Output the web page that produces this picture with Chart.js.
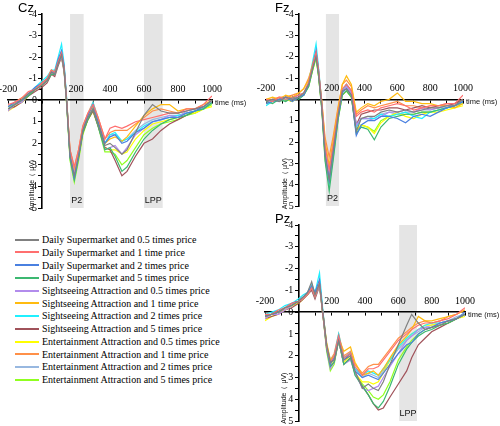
<!DOCTYPE html>
<html><head><meta charset="utf-8">
<script src="https://cdn.jsdelivr.net/npm/chart.js@4/dist/chart.umd.min.js"></script>
<style>
html,body{margin:0;padding:0;background:#fff}
body{width:500px;height:426px;position:relative;overflow:hidden;font-family:"Liberation Sans",Arial,sans-serif}
canvas{position:absolute}
.ttl{position:absolute;font-size:13px;line-height:13px;color:#000}
.lrow{position:absolute;left:15px;height:12px;line-height:12px;font-family:"Liberation Serif","Times New Roman",Times,serif;font-size:10px;color:#000;white-space:nowrap}
.lrow span.sw{display:inline-block;width:24px;height:2px;vertical-align:middle;margin-right:3px;position:relative;top:-1px}
</style></head><body>
<canvas id="cz" width="264" height="234" style="left:-12px;top:-6px"></canvas>
<canvas id="fz" width="257" height="232" style="left:246px;top:-6px"></canvas>
<canvas id="pz" width="260" height="236" style="left:245px;top:205px"></canvas>
<div class="ttl" style="left:18px;top:1px">Cz</div>
<div class="ttl" style="left:275px;top:1px">Fz</div>
<div class="ttl" style="left:275px;top:212px">Pz</div>
<div id="legend"></div>
<script>
// ---------- categories ----------
const NAMES = [
  "Daily Supermarket and 0.5 times price","Daily Supermarket and 1 time price",
  "Daily Supermarket and 2 times price","Daily Supermarket and 5 times price",
  "Sightseeing Attraction and 0.5 times price","Sightseeing Attraction and 1 time price",
  "Sightseeing Attraction and 2 times price","Sightseeing Attraction and 5 times price",
  "Entertainment Attraction and 0.5 times price","Entertainment Attraction and 1 time price",
  "Entertainment Attraction and 2 times price","Entertainment Attraction and 5 times price"];
const COLORS = ["#808080","#ff6f6f","#4a80e0","#3cb871","#b28cec","#ffbb10",
  "#20f0ff","#a0525a","#ffff00","#ff9048","#98b8e0","#90ff20"];

// ---------- tick labels ----------
const X_TICK_LABELS = [-200,200,400,600,800,1000];
const Y_TICK_LABELS = [-4,-3,-2,-1,0,1,2,3,4,5];

// ---------- Cz (time in ms, amplitude in µV) ----------
const CZ_TIMES = [-200,-160,-120,-80,-40,0,30,55,75,95,115,130,145,165,190,215,240,270,300,330,370,400,430,470,500,550,600,650,700,750,800,850,900,950,1000];
const cz_ds05 = [0.4,0.2,0.0,-0.3,-0.5,-0.7,-0.9,-1.3,-1.2,-1.7,-2.1,-1.4,0.1,2.6,3.5,2.6,1.4,0.8,0.4,1.1,2.1,2.0,2.2,2.5,2.3,1.5,0.7,0.2,0.5,0.6,0.6,0.5,0.4,0.3,0.0];
const cz_ds1  = [0.2,0.1,-0.1,-0.4,-0.5,-0.8,-1.0,-1.4,-1.3,-1.8,-2.2,-1.5,0.0,2.3,3.1,2.3,1.2,0.6,0.2,0.8,1.8,1.3,1.2,1.3,1.2,1.0,0.9,0.8,0.7,0.6,0.6,0.4,0.4,0.2,-0.2];
const cz_ds2  = [0.3,0.1,0.0,-0.3,-0.6,-0.8,-1.0,-1.3,-1.3,-1.9,-2.3,-1.6,0.0,2.6,3.6,2.6,1.4,0.7,0.2,1.0,2.0,1.7,1.6,2.0,1.9,1.5,1.3,1.0,0.9,0.8,0.8,0.6,0.5,0.3,0.0];
const cz_ds5  = [0.4,0.2,0.0,-0.2,-0.5,-0.7,-0.9,-1.2,-1.2,-1.7,-2.1,-1.5,0.1,2.7,3.7,2.7,1.5,0.9,0.4,1.2,2.3,2.2,2.6,3.3,3.1,2.4,1.8,1.4,1.1,0.9,0.8,0.7,0.5,0.4,0.1];
const cz_sa05 = [0.5,0.2,0.1,-0.3,-0.5,-0.7,-0.9,-1.3,-1.2,-1.7,-2.0,-1.4,0.1,2.5,3.4,2.5,1.4,0.8,0.4,1.1,2.3,2.2,2.1,2.5,2.2,1.6,1.3,1.0,0.9,0.7,0.8,0.5,0.4,0.3,0.1];
const cz_sa1  = [0.3,0.1,-0.1,-0.3,-0.5,-0.8,-1.0,-1.4,-1.3,-1.8,-2.1,-1.4,0.0,2.4,3.3,2.4,1.3,0.7,0.3,0.9,2.0,1.8,1.7,1.9,1.7,1.2,0.7,0.4,0.2,0.2,0.5,0.4,0.4,0.2,0.0];
const cz_sa2  = [0.3,0.2,0.0,-0.3,-0.6,-0.9,-1.1,-1.4,-1.4,-2.0,-2.6,-1.7,-0.1,2.5,3.6,2.6,1.3,0.7,0.1,0.9,2.0,1.6,1.5,1.9,1.8,1.5,1.2,1.0,0.9,0.8,0.7,0.6,0.5,0.4,0.1];
const cz_sa5  = [0.4,0.3,0.1,-0.2,-0.4,-0.6,-0.8,-1.2,-1.1,-1.6,-2.0,-1.3,0.1,2.6,3.5,2.6,1.5,0.9,0.5,1.2,2.2,2.3,2.8,3.5,3.3,2.6,2.0,1.8,1.4,1.1,0.9,0.7,0.5,0.4,0.1];
const cz_ea05 = [0.5,0.3,0.1,-0.2,-0.5,-0.7,-0.9,-1.3,-1.2,-1.7,-2.0,-1.4,0.1,2.6,3.6,2.7,1.5,0.9,0.5,1.1,2.2,2.3,2.3,2.5,2.4,1.8,1.4,1.1,1.0,0.9,0.8,0.6,0.6,0.4,0.3];
const cz_ea1  = [0.3,0.1,0.0,-0.3,-0.5,-0.8,-1.0,-1.4,-1.3,-1.8,-2.2,-1.5,0.0,2.3,3.1,2.3,1.2,0.6,0.1,0.8,1.8,1.5,1.4,1.4,1.4,1.1,0.8,0.5,0.4,0.5,0.6,0.5,0.4,0.3,0.0];
const cz_ea2  = [0.3,0.1,0.0,-0.3,-0.5,-0.8,-1.0,-1.3,-1.3,-1.8,-2.3,-1.6,0.0,2.5,3.5,2.5,1.3,0.7,0.2,0.9,2.0,1.6,1.6,1.9,1.8,1.4,1.1,0.9,0.8,0.7,0.7,0.6,0.5,0.3,0.1];
const cz_ea5  = [0.4,0.2,0.1,-0.2,-0.5,-0.7,-0.9,-1.2,-1.2,-1.7,-2.0,-1.4,0.2,2.8,3.8,2.8,1.6,0.9,0.5,1.2,2.4,2.4,2.5,3.0,2.8,2.2,1.6,1.3,1.1,1.0,0.9,0.7,0.6,0.4,0.2];

// ---------- Fz ----------
const FZ_TIMES = [-200,-160,-120,-80,-40,0,30,60,85,105,120,140,160,185,210,240,265,290,320,350,380,420,460,500,550,600,650,700,750,800,850,900,950,1000];
const fz_ds05 = [0.1,0.0,0.1,-0.1,0.0,-0.1,-0.3,-0.7,-1.5,-2.0,-1.2,0.4,2.6,3.8,2.4,0.7,-0.4,-0.5,-0.2,1.5,0.9,0.8,0.8,0.6,0.5,0.6,0.5,0.6,0.5,0.4,0.4,0.3,0.3,0.0];
const fz_ds1  = [0.0,0.1,-0.1,0.0,-0.1,-0.2,-0.3,-0.8,-1.6,-2.2,-1.4,0.2,2.2,3.3,2.1,0.6,-0.5,-0.7,-0.4,0.8,0.6,0.5,0.6,0.4,0.3,0.2,0.3,0.5,0.4,0.3,0.3,0.2,0.2,-0.2];
const fz_ds2  = [0.2,0.1,0.0,-0.1,0.1,-0.1,-0.2,-0.7,-1.6,-2.3,-1.4,0.3,2.6,3.8,2.5,0.8,-0.3,-0.5,-0.2,1.7,1.2,1.0,1.0,0.8,0.8,0.9,1.1,0.8,0.7,0.8,0.6,0.4,0.3,0.1];
const fz_ds5  = [0.1,0.2,0.0,0.1,-0.1,0.0,-0.2,-0.6,-1.4,-2.0,-1.1,0.5,2.9,4.3,2.8,0.9,-0.2,-0.4,-0.1,1.6,1.3,1.4,1.9,1.3,0.9,0.8,0.7,0.7,0.6,0.6,0.5,0.4,0.3,0.1];
const fz_sa05 = [0.2,0.0,0.1,-0.1,0.0,-0.2,-0.3,-0.7,-1.5,-2.1,-1.2,0.3,2.4,3.5,2.3,0.7,-0.4,-0.6,-0.3,1.2,0.9,0.9,1.0,0.8,0.6,0.6,0.5,0.6,0.4,0.5,0.4,0.3,0.3,0.1];
const fz_sa1  = [0.0,-0.1,0.0,-0.2,-0.1,-0.3,-0.5,-0.9,-1.7,-2.2,-1.3,0.1,2.0,3.1,1.9,0.4,-0.7,-1.1,-0.7,0.6,0.4,0.2,0.3,0.1,0.0,-0.3,0.1,0.1,0.2,0.2,0.3,0.3,0.4,0.2];
const fz_sa2  = [0.3,0.1,0.1,0.0,-0.1,-0.2,-0.3,-0.8,-1.8,-2.6,-1.5,0.2,2.6,4.0,2.5,0.7,-0.4,-0.7,-0.3,1.3,0.9,0.9,0.9,0.7,0.8,0.7,0.6,0.8,0.9,0.6,0.5,0.4,0.3,0.1];
const fz_sa5  = [0.1,0.0,0.0,-0.1,0.0,-0.1,-0.2,-0.7,-1.5,-2.1,-1.2,0.3,2.5,3.6,2.3,0.7,-0.4,-0.7,-0.4,1.2,0.7,0.6,0.5,0.5,0.4,0.4,0.5,0.4,0.3,0.4,0.3,0.3,0.2,0.0];
const fz_ea05 = [0.2,0.1,0.1,0.0,0.1,-0.1,-0.3,-0.7,-1.4,-2.0,-1.1,0.4,2.7,3.9,2.6,0.8,-0.2,-0.4,-0.1,1.4,1.2,1.3,1.6,1.1,0.8,0.6,0.8,0.9,0.7,0.6,0.6,0.5,0.4,0.3];
const fz_ea1  = [0.0,0.0,-0.1,-0.1,-0.2,-0.3,-0.5,-1.0,-1.6,-2.1,-1.3,0.1,1.8,2.7,1.7,0.3,-0.7,-0.9,-0.6,0.7,0.5,0.3,0.4,0.3,0.2,0.1,0.3,0.3,0.4,0.3,0.3,0.2,0.2,0.0];
const fz_ea2  = [0.1,0.1,0.0,-0.1,0.0,-0.1,-0.3,-0.7,-1.6,-2.2,-1.3,0.3,2.5,3.7,2.4,0.7,-0.4,-0.6,-0.3,1.3,0.9,0.8,0.9,0.7,0.6,0.7,0.6,0.6,0.5,0.5,0.4,0.4,0.3,0.1];
const fz_ea5  = [0.2,0.1,0.1,0.0,0.0,-0.1,-0.2,-0.6,-1.4,-1.9,-1.1,0.4,2.8,4.0,2.7,0.9,-0.2,-0.4,-0.1,1.5,1.2,1.3,1.5,1.0,0.8,0.7,0.7,0.7,0.6,0.6,0.5,0.4,0.3,0.2];

// ---------- Pz ----------
const PZ_TIMES = [-200,-160,-120,-80,-40,0,30,55,80,100,127,147,170,192,215,242,273,313,340,384,420,450,480,510,550,600,650,680,720,760,800,850,900,950,1000];
const pz_ds05 = [0.2,0.1,0.0,-0.2,-0.3,-0.5,-0.7,-0.9,-1.4,-0.8,-1.3,0.0,1.5,2.3,2.2,1.3,2.2,2.0,2.7,3.5,3.3,3.5,3.6,3.2,2.4,1.5,0.6,0.1,0.5,0.8,0.7,0.6,0.4,0.3,0.1];
const pz_ds1  = [0.1,0.1,-0.1,-0.2,-0.4,-0.5,-0.6,-0.8,-1.1,-0.7,-1.3,0.1,1.6,2.3,2.0,1.1,2.1,1.9,2.5,2.9,2.6,2.6,2.5,2.2,1.8,1.3,1.0,0.8,0.6,0.5,0.5,0.4,0.3,0.1,-0.2];
const pz_ds2  = [0.2,0.1,0.0,-0.2,-0.4,-0.5,-0.7,-0.9,-1.2,-0.9,-1.5,0.0,1.6,2.4,2.1,1.1,2.2,1.9,2.7,3.0,2.9,3.0,3.1,2.8,2.4,1.9,1.5,1.4,1.0,0.8,0.7,0.5,0.4,0.3,0.0];
const pz_ds5  = [0.2,0.1,0.0,-0.2,-0.3,-0.5,-0.6,-0.8,-1.1,-0.7,-1.3,0.1,1.7,2.5,2.3,1.3,2.4,2.1,2.9,3.4,3.8,4.2,4.4,4.1,3.4,2.4,1.7,1.4,1.1,0.9,0.8,0.6,0.5,0.3,0.1];
const pz_sa05 = [0.3,0.1,0.1,-0.1,-0.3,-0.5,-0.6,-0.8,-1.1,-0.7,-1.2,0.1,1.7,2.6,2.3,1.3,2.4,2.2,2.8,3.5,3.6,3.5,3.4,3.0,2.5,1.9,1.3,1.1,0.8,0.7,0.7,0.5,0.4,0.3,0.1];
const pz_sa1  = [0.3,0.1,0.0,-0.1,-0.3,-0.5,-0.6,-0.8,-1.2,-0.8,-1.3,0.0,1.4,2.2,2.0,1.2,1.8,1.6,2.3,2.9,2.8,2.7,2.9,2.6,2.1,1.5,1.1,0.8,0.2,0.4,0.4,0.3,0.2,0.1,-0.1];
const pz_sa2  = [0.1,0.0,-0.1,-0.3,-0.4,-0.6,-0.8,-0.9,-1.3,-0.9,-1.8,-0.1,1.5,2.2,2.0,1.0,2.1,1.9,2.6,2.9,2.7,2.8,2.9,2.6,2.2,1.6,1.2,1.0,0.8,0.6,0.5,0.5,0.4,0.3,0.1];
const pz_sa5  = [0.3,0.2,0.1,-0.1,-0.2,-0.4,-0.6,-0.8,-1.0,-0.6,-1.2,0.1,1.6,2.5,2.3,1.3,2.4,2.1,2.8,3.4,3.8,4.2,4.5,4.4,3.9,3.3,2.7,2.1,1.5,1.2,0.9,0.7,0.5,0.3,0.1];
const pz_ea05 = [0.4,0.2,0.1,-0.1,-0.3,-0.4,-0.6,-0.8,-1.1,-0.7,-1.2,0.1,1.6,2.4,2.2,1.3,2.3,2.0,2.8,3.2,3.2,3.3,3.2,2.8,2.2,1.6,1.2,1.0,0.8,0.6,0.6,0.5,0.4,0.3,0.2];
const pz_ea1  = [0.2,0.1,0.0,-0.2,-0.3,-0.5,-0.7,-0.8,-1.1,-0.8,-1.3,0.0,1.5,2.2,1.9,1.0,2.0,1.8,2.4,2.8,2.5,2.4,2.4,2.1,1.7,1.2,0.9,0.7,0.5,0.4,0.5,0.4,0.2,0.1,-0.1];
const pz_ea2  = [0.2,0.1,0.0,-0.2,-0.3,-0.5,-0.7,-0.8,-1.2,-0.8,-1.4,0.0,1.6,2.3,2.1,1.1,2.1,1.8,2.6,3.0,2.8,2.9,3.0,2.7,2.2,1.7,1.3,1.1,0.9,0.7,0.6,0.5,0.4,0.2,0.1];
const pz_ea5  = [0.3,0.1,0.0,-0.2,-0.3,-0.5,-0.6,-0.8,-1.1,-0.7,-1.3,0.1,1.8,2.7,2.4,1.3,2.4,2.1,2.8,3.3,3.6,3.9,4.0,3.8,3.2,2.2,1.6,1.3,1.0,0.8,0.7,0.6,0.5,0.3,0.1];

// ---------- shaded analysis windows (ms) ----------
const CZ_WINDOWS = [{label:"P2",from:165,to:245},{label:"LPP",from:600,to:710}];
const FZ_WINDOWS = [{label:"P2",from:165,to:245}];
const PZ_WINDOWS = [{label:"LPP",from:605,to:712}];

const decor = {
  id:'decor',
  beforeDraw(chart, args, o){
    const {ctx, chartArea:a, scales:{x}} = chart;
    ctx.save();
    o.windows.forEach(w=>{
      const x1 = x.getPixelForValue(w.from), x2 = x.getPixelForValue(w.to);
      ctx.fillStyle = '#e5e5e5';
      ctx.fillRect(x1, a.top, x2-x1, a.bottom-a.top);
      ctx.fillStyle = '#111';
      ctx.font = '9px "Liberation Sans", Arial, sans-serif';
      ctx.textAlign = 'center'; ctx.textBaseline = 'middle';
      ctx.fillText(w.label, (x1+x2)/2, a.bottom-7);
    });
    ctx.restore();
  },
  afterDraw(chart, args, o){
    const {ctx, chartArea:a, scales:{x,y}} = chart;
    ctx.save();
    ctx.fillStyle = '#111';
    ctx.font = '7.5px "Liberation Sans", Arial, sans-serif';
    ctx.textAlign = 'left'; ctx.textBaseline = 'middle';
    ctx.fillText('time (ms)', a.right+3, y.getPixelForValue(0)+3);
    ctx.translate(x.getPixelForValue(0)-o.titleOffset, y.getPixelForValue(3.95));
    ctx.rotate(-Math.PI/2);
    ctx.font = '7px "Liberation Sans", Arial, sans-serif';
    ctx.textAlign = 'center';
    ctx.fillText('Amplitude（ μV)', 0, 0);
    ctx.restore();
  }
};

function makePanel(id, times, series, windows, titleOffset){
  new Chart(document.getElementById(id), {
    type:'line',
    data:{datasets: series.map((vals,i)=>({
      label:NAMES[i],
      data: vals.map((v,k)=>({x:times[k], y:v})),
      borderColor:COLORS[i], backgroundColor:COLORS[i],
      borderWidth:1.2, pointRadius:0, tension:0, fill:false
    }))},
    options:{
      responsive:false, animation:false, devicePixelRatio:1,
      layout:{padding:{left:20,right:40,top:20,bottom:20}},
      plugins:{legend:{display:false}, tooltip:{enabled:false}, decor:{windows, titleOffset}},
      scales:{
        x:{type:'linear', min:-200, max:1000, position:{y:0},
          grid:{display:true, drawOnChartArea:false, drawTicks:true, tickLength:3, color:'#000', lineWidth:1},
          border:{display:true, color:'#000', width:1.6},
          ticks:{stepSize:100, autoSkip:false, maxRotation:0, padding:-20, color:'#000',
            font:{family:'"Liberation Serif","Times New Roman",Times,serif', size:10},
            callback:v=>X_TICK_LABELS.includes(v)?String(v):''}
        },
        y:{type:'linear', min:-4, max:5, reverse:true, position:{x:0},
          grid:{display:true, drawOnChartArea:false, drawTicks:true, tickLength:3, color:'#000', lineWidth:1},
          border:{display:true, color:'#000', width:1.6},
          ticks:{stepSize:0.5, autoSkip:false, padding:0, color:'#000',
            font:{family:'"Liberation Serif","Times New Roman",Times,serif', size:10},
            callback:v=>Y_TICK_LABELS.includes(v)?String(v)+'  ':''}
        }
      }
    },
    plugins:[decor]
  });
}

makePanel('cz', CZ_TIMES, [cz_ds05,cz_ds1,cz_ds2,cz_ds5,cz_sa05,cz_sa1,cz_sa2,cz_sa5,cz_ea05,cz_ea1,cz_ea2,cz_ea5], CZ_WINDOWS, 10);
makePanel('fz', FZ_TIMES, [fz_ds05,fz_ds1,fz_ds2,fz_ds5,fz_sa05,fz_sa1,fz_sa2,fz_sa5,fz_ea05,fz_ea1,fz_ea2,fz_ea5], FZ_WINDOWS, 14);
makePanel('pz', PZ_TIMES, [pz_ds05,pz_ds1,pz_ds2,pz_ds5,pz_sa05,pz_sa1,pz_sa2,pz_sa5,pz_ea05,pz_ea1,pz_ea2,pz_ea5], PZ_WINDOWS, 14);

// ---------- legend ----------
const leg = document.getElementById('legend');
NAMES.forEach((n,i)=>{
  const r = document.createElement('div');
  r.className = 'lrow';
  r.style.top = (234 + i*12.73).toFixed(1)+'px';
  r.innerHTML = '<span class="sw" style="background:'+COLORS[i]+'"></span>'+n;
  leg.appendChild(r);
});
</script>
</body></html>
